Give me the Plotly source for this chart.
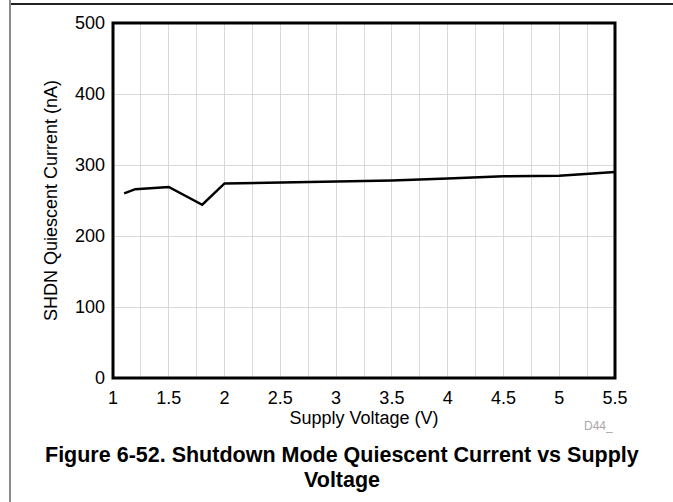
import plotly.graph_objects as go

# Shutdown-mode quiescent current vs supply voltage
supply_v = [1.1, 1.2, 1.5, 1.8, 2.0, 2.5, 3.0, 3.5, 4.0, 4.5, 5.0, 5.5]
iq_na = [260, 266, 269, 244, 274, 275, 277, 278, 281, 284, 285, 290]

x_ticks = [1, 1.5, 2, 2.5, 3, 3.5, 4, 4.5, 5, 5.5]
y_ticks = [0, 100, 200, 300, 400, 500]

FONT = "Liberation Sans, Arial, Helvetica, sans-serif"

fig = go.Figure()
fig.add_trace(go.Scatter(
    x=supply_v, y=iq_na, mode="lines",
    line=dict(color="black", width=2.5),
    showlegend=False, hoverinfo="skip",
))

L, R, T, B = 113, 58, 23, 124
W, H = 673, 502
pw, ph = W - L - R, H - T - B

def px_to_paper_x(px):
    return (px - L) / pw

def px_to_paper_y(py):
    return (H - B - py) / ph

fig.update_layout(
    width=W, height=H,
    margin=dict(l=L, r=R, t=T, b=B, pad=0),
    paper_bgcolor="white", plot_bgcolor="white",
    font=dict(family=FONT, size=18, color="black"),
    xaxis=dict(
        range=[1, 5.5], tickvals=x_ticks, ticktext=[f"{v:g}" for v in x_ticks],
        tickfont=dict(size=18),
        showgrid=True, gridcolor="#d9d9d9", gridwidth=1,
        minor=dict(dtick=0.25, tick0=1, showgrid=True, gridcolor="#d9d9d9", gridwidth=1),
        zeroline=False, showline=False, ticks="", ticklabelstandoff=7,
        title=dict(text="Supply Voltage (V)", standoff=4, font=dict(size=18)),
    ),
    yaxis=dict(
        range=[0, 500], tickvals=y_ticks,
        tickfont=dict(size=18),
        showgrid=True, gridcolor="#d9d9d9", gridwidth=1,
        zeroline=False, showline=False, ticks="", ticklabelstandoff=7,
        title=dict(text="SHDN Quiescent Current (nA)", standoff=12, font=dict(size=18)),
    ),
    shapes=[
        # plot frame
        dict(type="rect", xref="paper", yref="paper", x0=0, y0=0, x1=1, y1=1,
             line=dict(color="black", width=3), layer="above"),
        # page rule along the top
        dict(type="line", xref="paper", yref="paper",
             x0=px_to_paper_x(9), x1=px_to_paper_x(673),
             y0=px_to_paper_y(4), y1=px_to_paper_y(4),
             line=dict(color="#222222", width=2)),
        # page rule along the left side
        dict(type="line", xref="paper", yref="paper",
             x0=px_to_paper_x(10), x1=px_to_paper_x(10),
             y0=px_to_paper_y(0), y1=px_to_paper_y(502),
             line=dict(color="#8a8a8a", width=2)),
    ],
    annotations=[
        dict(text="D44_", xref="paper", yref="paper",
             x=px_to_paper_x(598), y=px_to_paper_y(426), xanchor="center", yanchor="middle",
             showarrow=False, font=dict(size=12, color="#a8a8a8")),
        dict(text="<b>Figure 6-52. Shutdown Mode Quiescent Current vs Supply</b>",
             xref="paper", yref="paper",
             x=px_to_paper_x(342), y=px_to_paper_y(455), xanchor="center", yanchor="middle",
             showarrow=False, font=dict(size=21.5, color="black")),
        dict(text="<b>Voltage</b>", xref="paper", yref="paper",
             x=px_to_paper_x(342), y=px_to_paper_y(480), xanchor="center", yanchor="middle",
             showarrow=False, font=dict(size=21.5, color="black")),
    ],
)

fig.write_html("out.html")
